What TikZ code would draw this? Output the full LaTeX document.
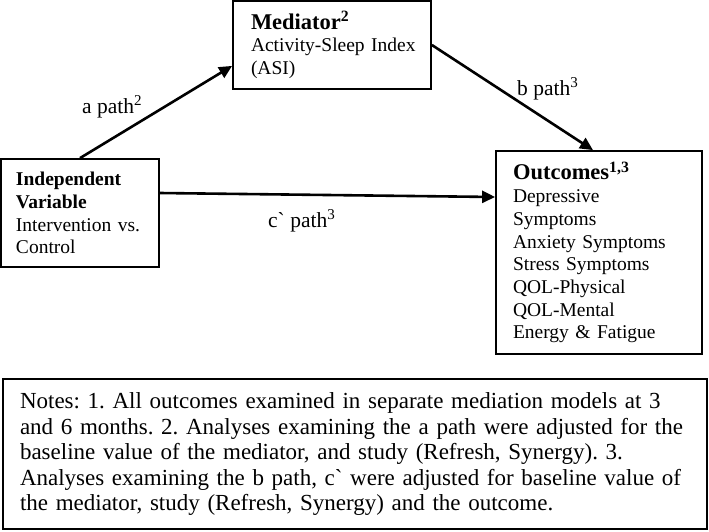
\documentclass[tikz,border=0pt]{standalone}
\usepackage{fontspec}
\setmainfont{Liberation Serif}[Ligatures=TeXOff]
\usetikzlibrary{arrows.meta}
\frenchspacing
\newcommand{\bodyfont}{\fontsize{19.5}{22.7}\selectfont\frenchspacing}
\newcommand{\headfont}{\fontsize{22.5}{22.7}\selectfont\bfseries}
\tikzset{
  box/.style={draw=black, line width=1.8pt, rectangle, align=left, inner ysep=2pt, font=\bodyfont},
  arr/.style={line width=2.6pt, -{Triangle[length=13pt,width=12pt]}},
  lbl/.style={anchor=base west, inner sep=0pt, font=\fontsize{21.5}{24}\selectfont},
}
\begin{document}
\begin{tikzpicture}[x=1pt,y=-1pt]
\useasboundingbox[fill=white] (0,0) rectangle (709,531);
\node[box, text width=128pt, inner xsep=15pt, minimum height=108pt] (iv) at (80,213)
  {\textbf{Independent}\\\textbf{Variable}\\\mbox{Intervention vs.}\\Control};
\node[box, text width=162pt, inner xsep=18pt, minimum height=88pt] (med) at (332,45)
  {{\headfont Mediator\textsuperscript{2}}\\\mbox{Activity-Sleep Index}\\(ASI)};
\node[box, text width=172pt, inner xsep=17pt, minimum height=203pt] (out) at (599,252.5)
  {{\headfont Outcomes\textsuperscript{1,3}}\\Depressive\\Symptoms\\\mbox{Anxiety Symptoms}\\\mbox{Stress Symptoms}\\QOL-Physical\\QOL-Mental\\\mbox{Energy \& Fatigue}};
\node[box, text width=670pt, inner xsep=17pt, minimum height=150pt, font=\fontsize{23}{25.5}\selectfont\frenchspacing] (notes) at (355,454)
  {\mbox{Notes: 1. All outcomes examined in separate mediation models at 3}\\
   \mbox{and 6 months. 2. Analyses examining the a path were adjusted for the}\\
   \mbox{baseline value of the mediator, and study (Refresh, Synergy). 3.}\\
   \mbox{Analyses examining the b path, c` were adjusted for baseline value of}\\
   \mbox{the mediator, study (Refresh, Synergy) and the outcome.}};
\draw[arr] (iv.north) -- ([yshift=24pt]med.south west);
\draw[arr] (med.east) -- ([xshift=-6pt]out.north);
\draw[arr] ([yshift=20pt]iv.east) -- ([yshift=55.5pt]out.west);
\node[lbl] (la) at (82,113) {a path\textsuperscript{2}};
\node[lbl] (lb) at (517,95) {b path\textsuperscript{3}};
\node[lbl] (lc) at (268,227) {c` path\textsuperscript{3}};
\end{tikzpicture}
\end{document}
